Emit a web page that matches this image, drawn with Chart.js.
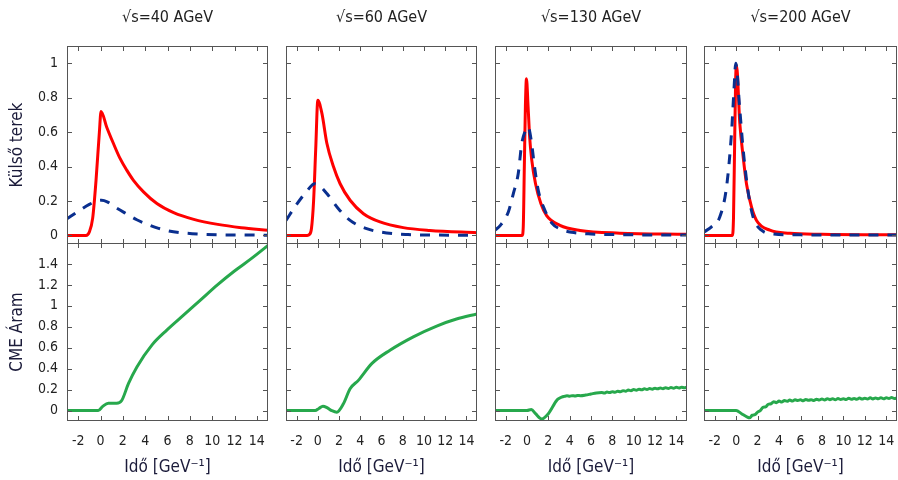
<!DOCTYPE html>
<html>
<head>
<meta charset="utf-8">
<script src="https://cdn.jsdelivr.net/npm/chart.js@4"></script>
<style>
body{margin:0;background:#fff;width:898px;height:480px;position:relative;overflow:hidden}
canvas{position:absolute}
</style>
</head>
<body>
<script>
// panel titles and axis ticks
const energies = ['√s=40 AGeV','√s=60 AGeV','√s=130 AGeV','√s=200 AGeV']
const xTicks = [-2,0,2,4,6,8,10,12,14]
const yTicksTop = [0,0.2,0.4,0.6,0.8,1]
const yTicksBottom = [0,0.2,0.4,0.6,0.8,1,1.2,1.4]

// 40 AGeV
const redT40 = [-3,-1.3,-1.0,-0.7,-0.4,-0.1,0.05,0.55,1.15,1.75,2.35,2.95,3.85,5.05,6.55,8.35,10.5,12.6,15]
const redV40 = [0,0,0.02,0.1,0.32,0.6,0.72,0.63,0.535,0.447,0.379,0.32,0.253,0.185,0.132,0.093,0.064,0.045,0.03]
const blueT40 = [-3,-2,-1,-0.3,0.1,0.6,1.3,2.2,3.25,4.2,5.2,6.1,7.1,8.2,9.4,11,13,15]
const blueV40 = [0.097,0.14,0.18,0.2,0.204,0.195,0.165,0.13,0.091,0.064,0.041,0.026,0.016,0.01,0.006,0.003,0.002,0.001]
const cmeT40 = [-3,-0.2,0.2,0.7,1.45,1.9,2.5,3.26,4.6,5.96,7.46,8.97,10.47,11.97,13.47,15.1]
const cmeV40 = [0,0,0.04,0.07,0.07,0.096,0.256,0.416,0.625,0.77,0.913,1.057,1.2,1.33,1.448,1.585]

// 60 AGeV
const redT60 = [-3,-1.0,-0.8,-0.6,-0.4,-0.2,0.0,0.38,0.85,1.47,2.1,3.04,4.3,5.86,8.05,10.56,15]
const redV60 = [0,0,0.005,0.04,0.2,0.5,0.785,0.71,0.535,0.4,0.3,0.204,0.126,0.078,0.045,0.029,0.016]
const blueT60 = [-3,-2,-1,-0.3,0.2,0.85,1.94,3.04,4.6,6.5,8.5,11,15]
const blueV60 = [0.087,0.18,0.26,0.3,0.285,0.243,0.155,0.087,0.039,0.014,0.005,0.002,0.001]
const cmeT60 = [-3,-0.25,0.1,0.48,0.9,1.3,1.79,2.41,3.04,3.82,5.08,6.8,9.0,11.2,13.07,15]
const cmeV60 = [0,0,0.02,0.042,0.025,0,-0.016,0.064,0.208,0.288,0.448,0.576,0.704,0.807,0.874,0.922]

// 130 AGeV
const redT130 = [-3,-0.45,-0.35,-0.25,-0.15,-0.05,0.1,0.25,0.44,0.8,1.3,1.84,3.09,4.97,8.7,15]
const redV130 = [0,0,0.05,0.4,0.75,0.91,0.75,0.57,0.44,0.3,0.185,0.115,0.058,0.029,0.013,0.006]
const blueT130 = [-3,-2.5,-1.75,-1.28,-0.82,-0.5,-0.2,0.1,0.4,0.7,1.06,1.6,2.35,3.2,4.2,6,9,15]
const blueV130 = [0.03,0.058,0.136,0.243,0.36,0.53,0.6,0.63,0.55,0.4,0.26,0.157,0.07,0.035,0.018,0.008,0.004,0.002]
const cmeT130 = [-3,0,0.4,0.8,1.38,2.0,2.78,3.0,3.25,3.5,3.75,4.0,4.25,4.5,4.75,5.0,5.5,6.0,6.5,7.0,7.25,7.5,7.75,8.0,8.25,8.5,8.75,9.0,9.25,9.5,9.75,10.0,10.25,10.5,10.75,11.0,11.25,11.5,11.75,12.0,12.25,12.5,12.75,13.0,13.25,13.5,13.75,14.0,14.25,14.5,14.75,15]
const cmeV130 = [0,0,0.01,-0.03,-0.08,-0.03,0.096,0.115,0.128,0.135,0.14,0.137,0.142,0.139,0.144,0.142,0.148,0.158,0.168,0.172,0.168,0.176,0.171,0.18,0.175,0.185,0.179,0.19,0.184,0.196,0.19,0.2,0.194,0.204,0.198,0.207,0.201,0.21,0.204,0.213,0.207,0.215,0.209,0.218,0.211,0.219,0.213,0.222,0.215,0.223,0.217,0.224]

// 200 AGeV
const redT200 = [-3,-0.35,-0.25,-0.15,-0.05,0.03,0.34,0.65,0.96,1.43,1.9,3.14,5,8,15]
const redV200 = [0,0,0.1,0.5,0.9,0.99,0.65,0.457,0.3,0.165,0.087,0.03,0.012,0.006,0.003]
const blueT200 = [-3,-2.3,-1.53,-0.9,-0.44,-0.2,-0.04,0.34,0.65,1.1,1.58,2.36,3.5,6,15]
const blueV200 = [0.02,0.05,0.107,0.28,0.59,0.85,1.0,0.73,0.5,0.26,0.107,0.03,0.008,0.003,0.002]
const cmeT200 = [-3,0,0.5,1.0,1.25,1.5,1.75,2.0,2.25,2.5,2.75,3.0,3.25,3.5,3.75,4.0,4.25,4.5,4.75,5.0,5.25,5.5,5.75,6.0,6.25,6.5,6.75,7.0,7.25,7.5,7.75,8.0,8.25,8.5,8.75,9.0,9.25,9.5,9.75,10.0,10.25,10.5,10.75,11.0,11.25,11.5,11.75,12.0,12.25,12.5,12.75,13.0,13.25,13.5,13.75,14.0,14.25,14.5,14.75,15]
const cmeV200 = [0,0,-0.03,-0.06,-0.07,-0.045,-0.04,-0.015,0,0.03,0.035,0.06,0.065,0.085,0.075,0.09,0.082,0.095,0.088,0.1,0.09,0.104,0.096,0.102,0.094,0.106,0.097,0.104,0.096,0.108,0.1,0.11,0.101,0.112,0.104,0.113,0.103,0.115,0.106,0.113,0.105,0.118,0.107,0.116,0.108,0.119,0.109,0.117,0.11,0.121,0.111,0.12,0.112,0.123,0.113,0.121,0.114,0.124,0.115,0.12]

const RED = '#ff0000'
const BLUE = '#0a2f8f'
const GREEN = '#27a84c'

// plot frame positions (left,right) per column
const plotX = [[67,268],[286,477],[495,687],[704,897]]

Chart.defaults.font.family = "'DejaVu Sans Condensed','DejaVu Sans',sans-serif"
Chart.defaults.font.size = 14
Chart.defaults.color = '#222'

function pts(T,V){
return T.map((t,i)=>({x:t,y:V[i]}))
}

// frame + inward ticks on all four sides
const frameTicks = {
id:'frameTicks',
afterDraw(chart){
const {ctx, chartArea:a, scales:{x,y}} = chart
const L = 5
ctx.save()
ctx.strokeStyle = '#555'
ctx.lineWidth = 1
ctx.beginPath()
x.ticks.forEach(t=>{
const px = Math.round(x.getPixelForValue(t.value))+0.5
ctx.moveTo(px,a.top); ctx.lineTo(px,a.top+L)
ctx.moveTo(px,a.bottom); ctx.lineTo(px,a.bottom-L)
})
y.ticks.forEach(t=>{
const py = Math.round(y.getPixelForValue(t.value))+0.5
ctx.moveTo(a.left,py); ctx.lineTo(a.left+L,py)
ctx.moveTo(a.right,py); ctx.lineTo(a.right-L,py)
})
ctx.stroke()
ctx.strokeRect(Math.round(a.left)+0.5,Math.round(a.top)+0.5,Math.round(a.right-a.left)-1,Math.round(a.bottom-a.top)-1)
ctx.restore()
}
}

function noPad(s){
s.paddingLeft = 0
s.paddingRight = 0
s.paddingTop = 0
s.paddingBottom = 0
}

function makePanel(col,row,datasets){
const [pl,pr] = plotX[col]
const top = row===0
const left = col===0 ? 0 : pl-4
const canvasTop = top ? 0 : 242
const canvasBottom = top ? 245 : 480
const cv = document.createElement('canvas')
cv.width = pr+1-left
cv.height = canvasBottom-canvasTop
cv.style.left = left+'px'
cv.style.top = canvasTop+'px'
document.body.appendChild(cv)

new Chart(cv,{
type:'line',
data:{datasets},
options:{
responsive:false,
animation:false,
layout:{padding:{top:top?0:1,right:1,left:0,bottom:0}},
elements:{point:{radius:0},line:{cubicInterpolationMode:'monotone'}},
plugins:{
legend:{display:false},
tooltip:{enabled:false},
title:{display:top,text:energies[col],fullSize:false,padding:{top:8,bottom:18.8},font:{size:16,weight:'normal'},color:'#222'}
},
scales:{
x:{
type:'linear',min:-3,max:15,
grid:{display:false,drawTicks:false},
border:{display:false},
afterBuildTicks:s=>{s.ticks = xTicks.map(v=>({value:v}))},
afterFit:s=>{s.height = top ? 1 : 59; noPad(s)},
ticks:{display:!top,padding:12,autoSkip:false,maxRotation:0,callback:v=>String(v)},
title:{display:!top,text:'Idő [GeV⁻¹]',padding:{top:0,bottom:2},font:{size:17},color:'#1b1b3a'}
},
y:{
type:'linear',
min:top?-0.05:-0.1,
max:top?1.1:1.6,
grid:{display:false,drawTicks:false},
border:{display:false},
afterBuildTicks:s=>{s.ticks = (top?yTicksTop:yTicksBottom).map(v=>({value:v}))},
afterFit:s=>{s.width = pl-left; noPad(s)},
ticks:{display:col===0,padding:9,autoSkip:false,callback:v=>String(v)},
title:{display:col===0,text:top?'Külső terek':'CME Áram',padding:{top:7,bottom:0},font:{size:17},color:'#1b1b3a'}
}
}
},
plugins:[frameTicks]
})
}

const series = [
[redT40,redV40,blueT40,blueV40,cmeT40,cmeV40],
[redT60,redV60,blueT60,blueV60,cmeT60,cmeV60],
[redT130,redV130,blueT130,blueV130,cmeT130,cmeV130],
[redT200,redV200,blueT200,blueV200,cmeT200,cmeV200]
]

series.forEach((s,col)=>{
makePanel(col,0,[
{data:pts(s[2],s[3]),borderColor:BLUE,borderWidth:3,borderDash:[10,9]},
{data:pts(s[0],s[1]),borderColor:RED,borderWidth:3}
])
makePanel(col,1,[
{data:pts(s[4],s[5]),borderColor:GREEN,borderWidth:3}
])
})
</script>
</body>
</html>
